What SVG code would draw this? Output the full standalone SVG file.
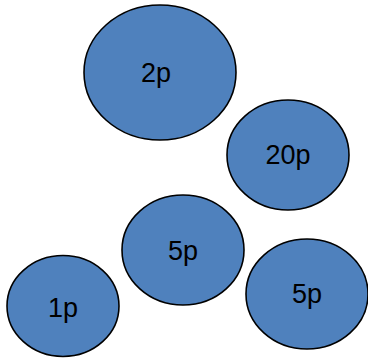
<svg xmlns="http://www.w3.org/2000/svg" width="368" height="363" viewBox="0 0 368 363">
<style>
.c{fill:#4F81BD;stroke:#000;stroke-width:1.6}
.t{font-family:"Comic Sans MS","Liberation Sans",sans-serif;font-size:27px;fill:#000;text-anchor:middle}
</style>
<rect width="368" height="363" fill="#fff"/>
<g id="connectors"/>
<g id="n2p"><ellipse class="c" cx="160" cy="72.5" rx="76" ry="67.5"/><text class="t" x="156" y="82">2p</text></g>
<g id="n20p"><ellipse class="c" cx="288" cy="155" rx="61" ry="55"/><text class="t" x="288" y="164">20p</text></g>
<g id="n5pa"><ellipse class="c" cx="183" cy="250" rx="61" ry="55"/><text class="t" x="183" y="260">5p</text></g>
<g id="n5pb"><ellipse class="c" cx="307" cy="294" rx="61" ry="55"/><text class="t" x="307" y="303">5p</text></g>
<g id="n1p"><ellipse class="c" cx="63" cy="306" rx="56" ry="50.5"/><text class="t" x="63" y="317">1p</text></g>
</svg>
